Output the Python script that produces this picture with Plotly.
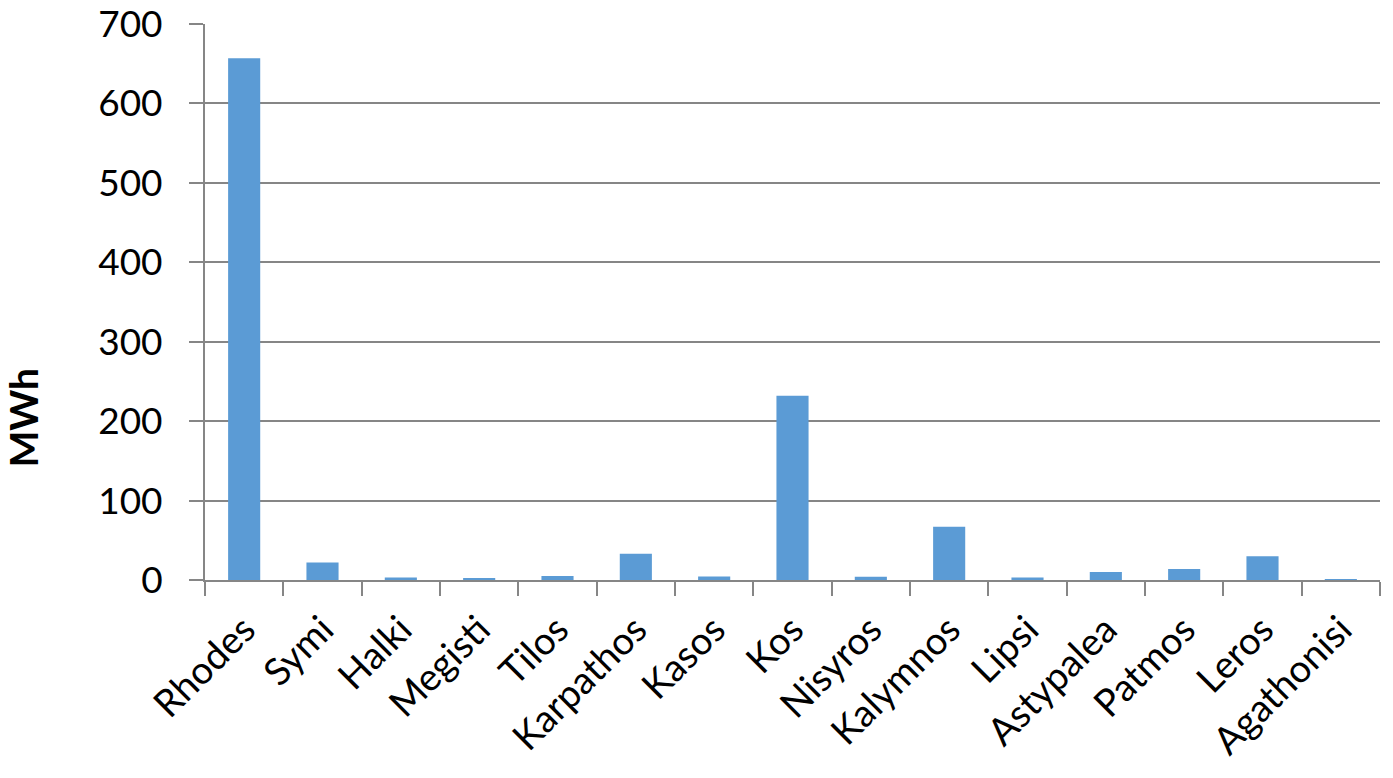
import plotly.graph_objects as go

islands = ["Rhodes", "Symi", "Halki", "Megisti", "Tilos", "Karpathos", "Kasos", "Kos",
           "Nisyros", "Kalymnos", "Lipsi", "Astypalea", "Patmos", "Leros", "Agathonisi"]
energy_mwh = [657, 22, 3, 2, 5, 33, 4.5, 232, 4, 67, 3, 10, 14, 30, 0.5]

GRID = "#868686"
FONT = "Lato, Liberation Sans, sans-serif"

fig = go.Figure()
fig.add_trace(go.Bar(x=islands, y=energy_mwh, marker=dict(color="#5B9BD5", line=dict(width=0))))

# page body has an 8px margin, so the figure is 8px smaller than the window
fig.update_layout(
    width=1385,
    height=770,
    margin=dict(l=197, r=13, t=16, b=198),
    plot_bgcolor="white",
    paper_bgcolor="white",
    bargap=0.59,
    showlegend=False,
    font=dict(family=FONT, size=37, color="black"),
)
fig.update_xaxes(
    automargin=False,
    tickangle=-45,
    tickson="boundaries",
    ticks="outside",
    ticklen=14,
    tickwidth=2,
    tickcolor=GRID,
    showline=True,
    linecolor=GRID,
    linewidth=2,
    showgrid=False,
    ticklabelstandoff=10,
    ticklabeloverflow="allow",
    tickfont=dict(size=38),
)
fig.update_yaxes(
    automargin=False,
    range=[0, 700],
    dtick=100,
    ticks="outside",
    ticklen=14,
    tickwidth=2,
    tickcolor=GRID,
    showline=True,
    linecolor=GRID,
    linewidth=2,
    showgrid=True,
    gridcolor=GRID,
    gridwidth=2,
    zeroline=False,
    ticklabelstandoff=19,
    ticklabeloverflow="allow",
    tickfont=dict(size=37),
)

# axis title sits below the plot centre in the source, so place it by hand
fig.add_annotation(
    text="<b>MWh</b>",
    xref="paper", yref="paper",
    x=-0.1545, y=0.293,
    xanchor="center", yanchor="middle",
    textangle=-90,
    showarrow=False,
    font=dict(size=39, family=FONT, color="black"),
)

fig.write_html("out.html")
